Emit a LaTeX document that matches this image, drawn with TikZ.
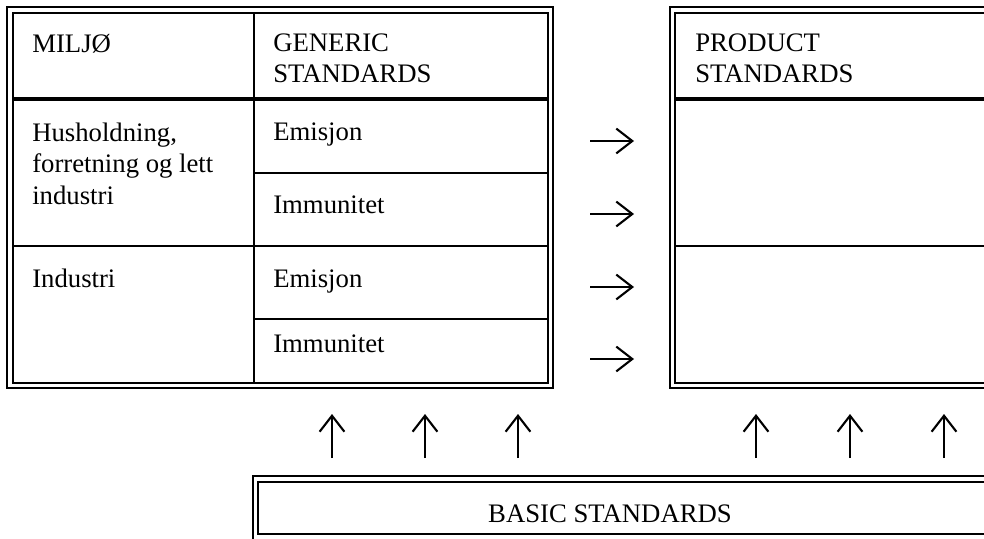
\documentclass[tikz,border=0pt]{standalone}
\usepackage{fontspec}
\setmainfont{Liberation Serif}
\usetikzlibrary{positioning,arrows.meta}

\begin{document}
\begin{tikzpicture}[
    x=0.025cm, y=-0.025cm,
    >={Straight Barb[length=4mm, width=6.2mm]},
    frame/.style={line width=1.3pt},
    rule/.style={line width=1.1pt},
    headrule/.style={line width=2.2pt},
    label/.style={anchor=base west, inner sep=0pt, align=left, font=\fontsize{19}{22.3}\selectfont},
    flow/.style={->, line width=1.5pt}
]

\path[use as bounding box] (0,0) rectangle (984,538);

% generic standards table
\draw[frame] (7,7) rectangle (553,388);
\draw[frame] (13,13) rectangle (548,383);
\draw[rule] (254,13) -- (254,383);
\draw[headrule] (13,99) -- (548,99);
\draw[rule] (254,173) -- (548,173);
\draw[rule] (13,246) -- (548,246);
\draw[rule] (254,319) -- (548,319);

% product standards table
\draw[frame] (990,7) -- (670,7) -- (670,388) -- (990,388);
\draw[frame] (990,13) -- (675,13) -- (675,383) -- (990,383);
\draw[headrule] (675,99) -- (990,99);
\draw[rule] (675,246) -- (990,246);

% basic standards box
\draw[frame] (990,476) -- (253,476) -- (253,545);
\draw[frame] (990,482) -- (258,482) -- (258,534) -- (990,534);

% texts (base = last line)
\node[label] (miljo) at (32,53) {MILJØ};
\node[label] (generic) at (273,83) {GENERIC\\STANDARDS};
\node[label] (hus) at (32,204) {Husholdning,\\forretning og lett\\industri};
\node[label] (em1) at (273,141) {Emisjon};
\node[label] (im1) at (273,213) {Immunitet};
\node[label] (ind) at (32,287) {Industri};
\node[label] (em2) at (273,287) {Emisjon};
\node[label] (im2) at (273,352) {Immunitet};
\node[label] (product) at (695,83) {PRODUCT\\STANDARDS};
\node[label, anchor=base] (basic) at (610,522) {BASIC STANDARDS};

% arrow ends
\coordinate (r1a) at (590,141);  \coordinate (r1b) at (634,141);
\coordinate (r2a) at (590,214);  \coordinate (r2b) at (634,214);
\coordinate (r3a) at (590,287);  \coordinate (r3b) at (634,287);
\coordinate (r4a) at (590,359);  \coordinate (r4b) at (634,359);

\coordinate (u1a) at (332,458);  \coordinate (u1b) at (332,414);
\coordinate (u2a) at (425,458);  \coordinate (u2b) at (425,414);
\coordinate (u3a) at (518,458);  \coordinate (u3b) at (518,414);
\coordinate (u4a) at (756,458);  \coordinate (u4b) at (756,414);
\coordinate (u5a) at (850,458);  \coordinate (u5b) at (850,414);
\coordinate (u6a) at (944,458);  \coordinate (u6b) at (944,414);

% generic to product
\draw[flow] (r1a) -- (r1b);
\draw[flow] (r2a) -- (r2b);
\draw[flow] (r3a) -- (r3b);
\draw[flow] (r4a) -- (r4b);

% basic standards upward
\draw[flow] (u1a) -- (u1b);
\draw[flow] (u2a) -- (u2b);
\draw[flow] (u3a) -- (u3b);
\draw[flow] (u4a) -- (u4b);
\draw[flow] (u5a) -- (u5b);
\draw[flow] (u6a) -- (u6b);

\end{tikzpicture}
\end{document}
